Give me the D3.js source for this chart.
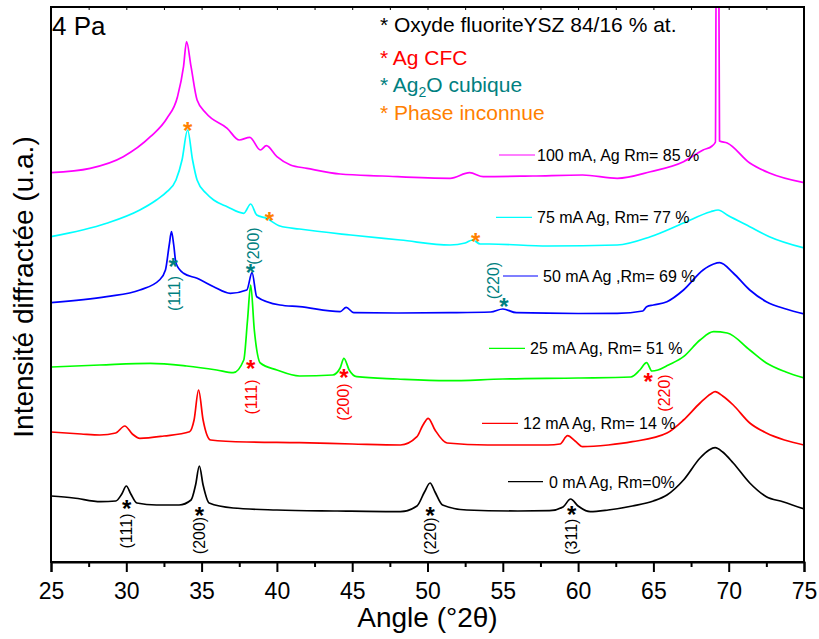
<!DOCTYPE html>
<html><head><meta charset="utf-8">
<script src="https://cdn.jsdelivr.net/npm/d3@7"></script>
<style>
body{margin:0;background:#fff;}
svg{display:block;font-family:"Liberation Sans",Arial,Helvetica,sans-serif;}
</style></head>
<body>
<svg id="chart" width="819" height="639"></svg>
<script>
// ---- data: [angle (°2θ), intensity (a.u.)] ----
const angles0 = [25,26.5,28.3,29.3,29.7,30.0,30.3,30.7,32,33.5,34.3,34.6,34.85,35.1,35.5,37.1,40,44,48.2,49.3,49.8,50.17,50.5,51,52.6,56,58.1,59,59.5,60,60.8,62,63.6,65,65.9,67,68.1,68.7,69.1,69.6,70.3,71.4,72.5,73.6,75];
const values0 = [66,64,60.3,61,68,76,68,59,57,57,62,77,96,77,59,54,52,51,50.3,56,70,79,70,57,52,51,51.3,55,63,56,50.3,52,56,61,67,82,104,112,114.3,110,99,79,65.3,60.3,53];

const angles12 = [25,27,28.25,29.3,29.9,30.4,30.9,32.5,34.2,34.5,34.8,35.1,35.6,38,41.5,45,48.2,49.3,49.7,50.05,50.5,51.3,54,58,58.8,59.3,59.8,60.3,62,63.6,65.9,67,68.1,68.8,69.1,69.6,70.3,71.4,72.5,73.7,75];
const values12 = [130,128,127,129,136,128,123.7,126,130.3,142,172,142,122,120,119.3,118,117,125.3,137,143.7,132,119,117,117,118,126.3,121,115.3,117,120.3,129,142,159,168,170.3,166,157,139,129,122,117];

const angles25 = [25,28.25,31.6,34,36,37.1,37.8,38.05,38.26,38.5,38.9,40,41.5,43.7,44.2,44.45,44.8,45.3,48,51.3,55,60,63.5,64.1,64.55,64.9,65.3,66,67,68.1,69,69.9,71.4,72.5,73.8,75];
const values25 = [195,197,198.7,196,192,189.3,202,242,277,232,199,192,186,187,194,203.7,192,185.3,183,181.3,183,184,185,192,199.3,191,192,197,205.3,222,230.3,229,212,199,190,184];

const angles50 = [25,28.7,30.9,32.2,32.6,32.85,33.0,33.15,33.3,33.8,34.7,35.8,36.9,38.0,38.35,38.66,40.2,41.5,44.2,44.6,45.1,48,51.5,54.2,55,55.9,60,62.6,64.3,64.55,65,65.9,67,68.3,69,69.4,70.3,71.4,72.5,73.8,75];
const values50 = [259.3,265.3,272,282,292,317,330.3,317,298.7,288.7,283.7,275.3,268.7,272,289.3,265.3,257,255.3,250.3,254.7,249.3,249,249.3,250,253,249.3,248.5,248.7,251,255.3,257,260.3,272,292,298,299.3,289,272,260.3,253,248];

const angles75 = [25,28.7,30.9,32,32.7,33.3,33.7,34.07,34.4,34.7,35.3,35.8,36.7,37.8,38.26,38.66,39.3,40.2,41.5,44.9,48.2,51.5,52.5,53,53.5,54.1,58,62.6,64.8,67,68.8,69.3,69.9,71.4,72.7,75];
const values75 = [325.3,338.7,352,362,370.3,382,402,432,402,382,368.7,362,355.3,348.7,358,347,343.7,336,333,327,322,317,319,322,318,318,316,317,325.3,339,350.3,352,347,335.3,325.3,314];

const angles100 = [25,27.6,29.8,31.6,32.7,33.4,33.8,34.0,34.3,34.7,35.3,36.7,37.5,38.2,38.9,39.3,40,40.9,42,44.2,47,51.5,52.8,53.7,57,60.3,62.6,64.8,67,68.3,68.9,69.12,69.17,69.34,69.39,69.9,71.4,72.7,75];
const values100 = [389.3,393.7,405.3,425.3,443.7,465.3,495.3,520.3,495.3,462,448.7,433.7,422,424.7,412,416.3,405.3,397,393.7,388,386,383.7,389.3,385.3,386,387,383.7,390.3,400.3,412,416,420,600,600,421,419,399,389,379.3];

const seriesNames = ["0 mA Ag, Rm=0%","12 mA Ag, Rm= 14 %","25 mA Ag, Rm= 51 %","50 mA Ag ,Rm= 69 %","75 mA Ag, Rm= 77 %","100 mA, Ag Rm= 85 %"];
const seriesColors = ["#000000","#ff0000","#00ff00","#0000ff","#00ffff","#ff00ff"];
const seriesAngles = [angles0,angles12,angles25,angles50,angles75,angles100];
const seriesValues = [values0,values12,values25,values50,values75,values100];

const xTicks = [25,30,35,40,45,50,55,60,65,70,75];
const xMinor = [27.5,32.5,37.5,42.5,47.5,52.5,57.5,62.5,67.5,72.5];

// phase markers
const ysz = [[30.03,58.7,"(111)",31],[34.85,52,"(200)",26.5],[50.17,52,"(220)",26],[59.57,52.7,"(311)",25.3]];
const agCFC = [[38.26,198.7,"(111)",38.3,165],[44.45,189.3,"(200)",44.4,160],[64.66,186,"(220)",65.77,169]];
const ag2o = [[33.12,301,"(111)",33.23,268.5],[38.24,294.7,"(200)",38.43,316],[55.08,260.3,"(220)",54.37,281.5]];
const unknown = [[34.08,436.3],[39.5,346.3],[53.2,325.3]];

const legendTexts = ["* Oxyde fluoriteYSZ 84/16 % at.","* Ag CFC","* Ag2O cubique","* Phase inconnue"];
const legendColors = ["#000000","#ff0000","#008080","#ff8000"];

// ---- drawing ----
const svg = d3.select("#chart");
const L=51,R=804,T=7,B=562;
const x = d3.scaleLinear().domain([25,75]).range([L,R]);
const y = d3.scaleLinear().domain([0,555]).range([B,T]);

svg.append("defs").append("clipPath").attr("id","clip")
  .append("rect").attr("x",L).attr("y",T).attr("width",R-L).attr("height",B-T);

const line = d3.line().x(d=>x(d[0])).y(d=>y(d[1])).curve(d3.curveMonotoneX);
const g = svg.append("g").attr("clip-path","url(#clip)");
seriesAngles.forEach((a,i)=>{
  const pts = a.map((v,j)=>[v,seriesValues[i][j]]);
  g.append("path").attr("d",line(pts)).attr("fill","none")
   .attr("stroke",seriesColors[i]).attr("stroke-width",1.7).attr("stroke-linejoin","round");
});

// frame
svg.append("rect").attr("x",L).attr("y",T).attr("width",R-L).attr("height",B-T)
  .attr("fill","none").attr("stroke","#000").attr("stroke-width",2);

// bottom axis
const ax = svg.append("g").attr("transform",`translate(0,${B})`)
  .call(d3.axisBottom(x).tickValues(xTicks).tickSize(10).tickFormat(d3.format("d")));
ax.select(".domain").attr("stroke-width",2);
ax.selectAll(".tick line").attr("stroke-width",2);
ax.selectAll("text").attr("font-size",23).attr("y",21).attr("fill","#000")
  .attr("font-family",'"Liberation Sans",Arial,sans-serif');
const axm = svg.append("g").attr("transform",`translate(0,${B})`)
  .call(d3.axisBottom(x).tickValues(xMinor).tickSize(5).tickFormat(""));
axm.select(".domain").remove();
axm.selectAll(".tick line").attr("stroke-width",2);
// top inward ticks
const axt = svg.append("g").attr("transform",`translate(0,${T})`)
  .call(d3.axisBottom(x).tickValues(xTicks.concat(xMinor)).tickSize(3).tickFormat(""));
axt.select(".domain").remove();
axt.selectAll(".tick line").attr("stroke-width",1);

// axis titles
svg.append("text").attr("x",(L+R)/2).attr("y",627).attr("text-anchor","middle")
  .attr("font-size",28).text("Angle (°2θ)");
svg.append("text").attr("transform","translate(33,287) rotate(-90)").attr("text-anchor","middle")
  .attr("font-size",28).text("Intensité diffractée (u.a.)");

svg.append("text").attr("x",52).attr("y",35).attr("font-size",26).text("4 Pa");

// top legend
const legBase=[31.7,65,92,120];
legendTexts.forEach((t,i)=>{
  const tx = svg.append("text").attr("x",380).attr("y",legBase[i]).attr("font-size",21).attr("fill",legendColors[i]);
  if(i===2){
    tx.append("tspan").text("* Ag");
    tx.append("tspan").attr("font-size",14).attr("dy",5).text("2");
    tx.append("tspan").attr("dy",-5).text("O cubique");
  } else tx.text(t);
});

// series legend
const legLines=[[508,543,481.7],[482,518,423.3],[489,525,348.3],[503,538,276],[496,532,217.3],[499,535,155]];
const legTextX=[549,523,530,543,537,537];
legLines.forEach((l,i)=>{
  svg.append("line").attr("x1",l[0]).attr("x2",l[1]).attr("y1",l[2]).attr("y2",l[2])
    .attr("stroke",seriesColors[i]).attr("stroke-width",1.2);
  svg.append("text").attr("x",legTextX[i]).attr("y",l[2]+5.8).attr("font-size",16).attr("fill","#000")
    .text(seriesNames[i]);
});

// markers
function star(a,v,color){
  svg.append("text").attr("x",x(a)).attr("y",y(v)+13.5).attr("text-anchor","middle")
    .attr("font-size",24).attr("font-weight","bold").attr("fill",color).text("*");
}
function rlabel(a,v,txt,color){
  svg.append("text").attr("transform",`translate(${x(a)+5.5},${y(v)}) rotate(-90)`)
    .attr("text-anchor","middle").attr("font-size",16).attr("fill",color).text(txt);
}
ysz.forEach(d=>{star(d[0],d[1],"#000"); rlabel(d[0],d[3],d[2],"#000");});
agCFC.forEach(d=>{star(d[0],d[1],"#ff0000"); rlabel(d[3],d[4],d[2],"#ff0000");});
ag2o.forEach(d=>{star(d[0],d[1],"#008080"); rlabel(d[3],d[4],d[2],"#008080");});
unknown.forEach(d=>star(d[0],d[1],"#ff8000"));
</script>
</body></html>
